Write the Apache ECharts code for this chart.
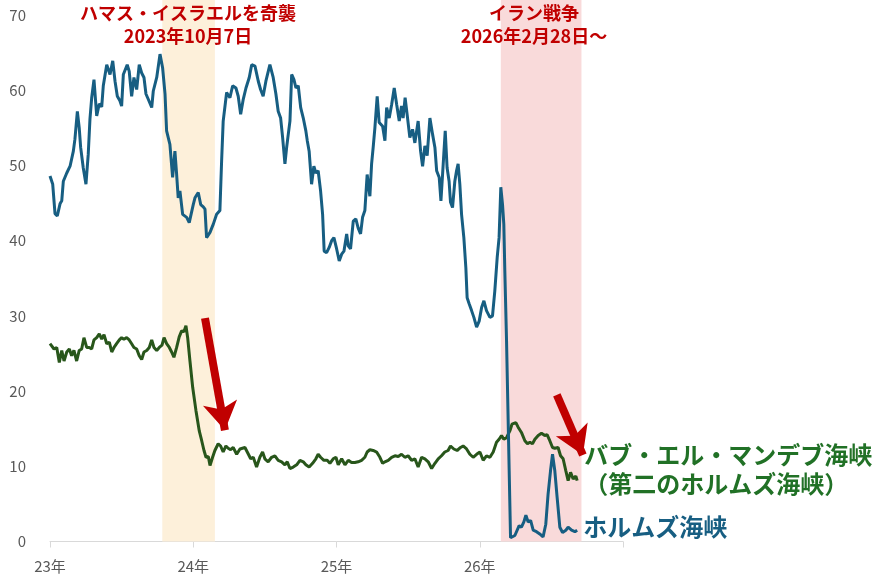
<!DOCTYPE html>
<html>
<head>
<meta charset="utf-8">
<script src="https://cdn.jsdelivr.net/npm/echarts@6/dist/echarts.min.js"></script>
<style>
  html, body { margin: 0; padding: 0; background: #fff; }
  #chart { width: 875px; height: 579px; }
</style>
</head>
<body>
<div id="chart"></div>
<script>
// ホルムズ海峡 (decimal year, value)
const hormuzYear = [
  2023.000, 2023.019, 2023.035, 2023.051, 2023.070, 2023.082, 2023.093, 2023.117, 2023.140, 2023.151,
  2023.163, 2023.174, 2023.191, 2023.204, 2023.214, 2023.232, 2023.251, 2023.267, 2023.279, 2023.291,
  2023.307, 2023.326, 2023.344, 2023.361, 2023.372, 2023.396, 2023.419, 2023.438, 2023.454, 2023.470,
  2023.488, 2023.500, 2023.512, 2023.539, 2023.553, 2023.570, 2023.586, 2023.605, 2023.623, 2023.640,
  2023.656, 2023.670, 2023.686, 2023.710, 2023.721, 2023.745, 2023.768, 2023.786, 2023.803, 2023.814,
  2023.837, 2023.856, 2023.872, 2023.884, 2023.895, 2023.907, 2023.926, 2023.954, 2023.972, 2024.000,
  2024.012, 2024.035, 2024.052, 2024.070, 2024.082, 2024.093, 2024.117, 2024.140, 2024.163, 2024.186,
  2024.198, 2024.209, 2024.233, 2024.256, 2024.275, 2024.298, 2024.314, 2024.331, 2024.349, 2024.368,
  2024.391, 2024.408, 2024.431, 2024.454, 2024.470, 2024.488, 2024.507, 2024.535, 2024.558, 2024.577,
  2024.593, 2024.610, 2024.624, 2024.640, 2024.652, 2024.663, 2024.675, 2024.687, 2024.703, 2024.717,
  2024.733, 2024.750, 2024.768, 2024.786, 2024.796, 2024.809, 2024.826, 2024.842, 2024.856, 2024.872,
  2024.889, 2024.903, 2024.914, 2024.931, 2024.949, 2024.966, 2024.982, 2025.001, 2025.019, 2025.036,
  2025.052, 2025.071, 2025.082, 2025.098, 2025.117, 2025.135, 2025.151, 2025.168, 2025.182, 2025.198,
  2025.214, 2025.233, 2025.245, 2025.256, 2025.268, 2025.284, 2025.298, 2025.322, 2025.338, 2025.350,
  2025.368, 2025.385, 2025.403, 2025.420, 2025.438, 2025.454, 2025.465, 2025.479, 2025.493, 2025.512,
  2025.531, 2025.547, 2025.570, 2025.587, 2025.601, 2025.617, 2025.633, 2025.652, 2025.671, 2025.687,
  2025.699, 2025.717, 2025.729, 2025.745, 2025.759, 2025.772, 2025.786, 2025.796, 2025.810, 2025.826,
  2025.838, 2025.849, 2025.861, 2025.873, 2025.889, 2025.903, 2025.912, 2025.926, 2025.943, 2025.959,
  2025.978, 2025.996, 2026.013, 2026.029, 2026.047, 2026.071, 2026.089, 2026.105, 2026.122, 2026.135,
  2026.147, 2026.159, 2026.168, 2026.175, 2026.187, 2026.215, 2026.245, 2026.275, 2026.291, 2026.308,
  2026.322, 2026.338, 2026.355, 2026.373, 2026.396, 2026.419, 2026.442, 2026.461, 2026.477, 2026.494,
  2026.508, 2026.524, 2026.540, 2026.559, 2026.578, 2026.601, 2026.617, 2026.641, 2026.664, 2026.680
];
const hormuzValue = [
  48.6, 47.5, 43.6, 43.3, 44.9, 45.3, 47.9, 49.0, 49.9, 49.8,
  51.9, 53.5, 57.2, 55.0, 52.4, 49.7, 47.5, 51.5, 56.2, 59.0,
  61.4, 56.6, 58.2, 57.8, 60.6, 63.4, 62.1, 63.9, 61.2, 59.2,
  58.6, 57.9, 62.1, 63.4, 62.5, 59.2, 61.7, 60.1, 63.4, 62.3,
  61.7, 59.5, 58.8, 57.7, 59.9, 61.7, 64.8, 63.0, 59.5, 54.6,
  52.8, 48.4, 51.9, 48.8, 45.7, 46.6, 43.5, 43.1, 42.4, 44.8,
  45.7, 46.4, 44.8, 44.5, 44.2, 40.4, 41.1, 42.2, 43.5, 44.0,
  50.6, 55.9, 59.7, 59.0, 60.6, 60.3, 59.2, 56.8, 58.8, 60.3,
  61.7, 63.4, 63.2, 61.2, 60.1, 59.2, 61.2, 63.4, 61.7, 59.5,
  57.2, 56.3, 53.7, 50.2, 52.4, 54.1, 55.9, 62.1, 61.4, 60.3,
  60.6, 57.7, 56.3, 54.6, 53.3, 51.9, 47.5, 49.9, 49.0, 49.3,
  46.6, 43.5, 38.6, 38.4, 39.1, 40.0, 40.4, 38.9, 37.3, 38.2,
  38.6, 40.9, 39.3, 38.9, 42.6, 42.9, 41.7, 40.9, 43.1, 44.0,
  48.8, 45.9, 50.2, 52.4, 55.0, 59.2, 55.7, 55.2, 53.3, 57.7,
  56.3, 58.1, 60.3, 58.1, 55.9, 57.9, 56.3, 59.0, 56.8, 53.7,
  54.8, 53.0, 55.9, 51.9, 49.9, 52.6, 51.3, 56.3, 54.1, 52.4,
  49.3, 48.4, 45.3, 50.2, 54.6, 49.7, 47.9, 45.1, 44.4, 47.9,
  49.3, 50.2, 47.5, 43.5, 40.4, 36.4, 32.4, 31.6, 30.7, 29.8,
  28.5, 29.3, 31.1, 32.0, 30.7, 29.8, 30.0, 33.3, 37.8, 40.4,
  47.1, 44.8, 42.2, 36.0, 26.7, 0.5, 0.8, 2.1, 1.9, 2.6,
  3.5, 2.6, 2.8, 1.5, 1.3, 1.0, 0.6, 2.3, 6.3, 9.4,
  11.6, 9.4, 5.9, 1.9, 1.2, 1.5, 1.9, 1.5, 1.3, 1.5
];

// バブ・エル・マンデブ海峡 (decimal year, value)
const babYear = [
  2023.000, 2023.012, 2023.028, 2023.047, 2023.065, 2023.082, 2023.098, 2023.117, 2023.135, 2023.151,
  2023.167, 2023.186, 2023.204, 2023.221, 2023.237, 2023.256, 2023.274, 2023.291, 2023.307, 2023.326,
  2023.344, 2023.361, 2023.377, 2023.396, 2023.414, 2023.431, 2023.447, 2023.465, 2023.484, 2023.500,
  2023.516, 2023.535, 2023.553, 2023.570, 2023.586, 2023.605, 2023.623, 2023.640, 2023.656, 2023.675,
  2023.693, 2023.710, 2023.726, 2023.745, 2023.763, 2023.782, 2023.796, 2023.814, 2023.833, 2023.849,
  2023.865, 2023.884, 2023.902, 2023.919, 2023.935, 2023.949, 2023.961, 2023.977, 2023.996, 2024.019,
  2024.042, 2024.059, 2024.075, 2024.089, 2024.105, 2024.117, 2024.135, 2024.151, 2024.174, 2024.191,
  2024.209, 2024.228, 2024.244, 2024.261, 2024.279, 2024.303, 2024.326, 2024.361, 2024.377, 2024.401,
  2024.419, 2024.442, 2024.465, 2024.484, 2024.500, 2024.523, 2024.547, 2024.570, 2024.593, 2024.617,
  2024.640, 2024.656, 2024.675, 2024.698, 2024.722, 2024.745, 2024.768, 2024.786, 2024.809, 2024.833,
  2024.856, 2024.872, 2024.889, 2024.912, 2024.935, 2024.954, 2024.977, 2024.996, 2025.012, 2025.036,
  2025.059, 2025.082, 2025.105, 2025.128, 2025.151, 2025.175, 2025.198, 2025.214, 2025.233, 2025.256,
  2025.280, 2025.303, 2025.322, 2025.338, 2025.361, 2025.385, 2025.408, 2025.431, 2025.454, 2025.477,
  2025.500, 2025.524, 2025.547, 2025.570, 2025.594, 2025.617, 2025.640, 2025.664, 2025.687, 2025.710,
  2025.733, 2025.756, 2025.779, 2025.796, 2025.819, 2025.842, 2025.866, 2025.884, 2025.908, 2025.931,
  2025.954, 2025.978, 2026.001, 2026.024, 2026.047, 2026.071, 2026.094, 2026.117, 2026.135, 2026.152,
  2026.168, 2026.187, 2026.210, 2026.225, 2026.252, 2026.268, 2026.291, 2026.315, 2026.333, 2026.350,
  2026.368, 2026.385, 2026.408, 2026.431, 2026.454, 2026.470, 2026.489, 2026.508, 2026.524, 2026.547,
  2026.564, 2026.582, 2026.601, 2026.617, 2026.634, 2026.652, 2026.671, 2026.680
];
const babValue = [
  26.3, 26.5, 25.6, 25.8, 23.8, 25.4, 24.0, 25.2, 25.6, 24.7,
  25.4, 24.0, 25.4, 25.6, 27.1, 25.8, 25.8, 25.6, 26.8, 27.1,
  27.6, 26.9, 27.5, 26.3, 26.5, 25.2, 25.8, 26.3, 26.8, 27.1,
  26.9, 27.1, 26.8, 26.3, 25.8, 25.6, 24.7, 24.2, 25.2, 25.4,
  25.8, 26.8, 25.8, 25.4, 25.8, 26.1, 27.1, 26.3, 25.8, 25.2,
  24.5, 25.8, 27.2, 28.0, 27.9, 28.7, 27.1, 24.0, 20.5, 17.4,
  14.7, 13.4, 12.1, 11.2, 11.3, 10.1, 11.2, 12.1, 13.0, 12.7,
  11.9, 12.7, 12.4, 12.2, 12.5, 11.6, 12.3, 12.5, 11.9, 11.0,
  11.2, 9.9, 11.2, 11.9, 11.0, 10.6, 11.2, 11.4, 10.8, 10.6,
  10.2, 10.6, 9.7, 9.9, 10.2, 10.8, 10.6, 10.2, 9.9, 10.4,
  11.0, 11.6, 11.2, 10.8, 10.8, 10.4, 11.0, 11.2, 10.2, 11.0,
  10.2, 10.8, 10.5, 10.5, 10.6, 10.8, 11.2, 11.9, 12.2, 12.1,
  11.9, 11.2, 10.4, 10.6, 10.8, 11.2, 11.4, 11.3, 11.6, 11.2,
  11.4, 10.8, 11.0, 9.9, 11.2, 11.0, 10.6, 9.7, 10.4, 11.0,
  11.4, 11.9, 12.1, 12.7, 12.3, 12.1, 12.5, 12.7, 12.3, 11.6,
  11.2, 11.6, 11.9, 10.8, 11.4, 11.2, 11.9, 13.2, 13.6, 14.1,
  13.6, 13.8, 14.7, 15.6, 15.8, 15.2, 14.5, 13.4, 13.0, 13.2,
  13.0, 13.6, 14.1, 14.4, 14.1, 14.2, 13.4, 12.5, 12.4, 12.5,
  11.4, 11.0, 9.4, 8.1, 9.2, 8.3, 8.7, 8.1
];

// shaded periods
const bandStart = [2023.784, 2026.147];
const bandEnd = [2024.151, 2026.710];
const bandColor = ['#fdf0da', '#f9dada'];

// red arrows (from -> to, in data units)
const arrowFrom = [[2024.082, 29.7], [2026.538, 19.5]];
const arrowTo = [[2024.221, 14.8], [2026.720, 11.5]];

const FONT = '"Noto Sans CJK JP", "Noto Sans", sans-serif';
const BLUE = '#175e82';
const GREEN = '#28561b';
const RED = '#c00000';

const zip = (xs, ys) => xs.map((x, i) => [x, ys[i]]);

function note(text, x, y) {
  return {
    type: 'text', x: x, y: y, z: 100,
    style: { text: text, fill: RED, font: 'bold 18px ' + FONT, textAlign: 'center', textVerticalAlign: 'middle' }
  };
}

const chart = echarts.init(document.getElementById('chart'));

chart.setOption({
  animation: false,
  textStyle: { fontFamily: FONT },
  grid: { left: 50, right: 252, top: 0, bottom: 37.5 },
  xAxis: {
    type: 'value',
    min: 2023,
    max: 2027,
    interval: 1,
    axisLine: { lineStyle: { color: '#d9d9d9' } },
    axisTick: { show: true, length: 6, lineStyle: { color: '#d9d9d9' } },
    splitLine: { show: false },
    axisLabel: {
      color: '#595959',
      fontSize: 15,
      margin: 17,
      formatter: v => (v >= 2027 ? '' : (v - 2000) + '年')
    }
  },
  yAxis: {
    type: 'value',
    min: 0,
    max: 72,
    interval: 10,
    axisLine: { show: false },
    axisTick: { show: false },
    splitLine: { show: false },
    axisLabel: {
      color: '#595959',
      fontSize: 15,
      margin: 24,
      formatter: v => (v > 70 ? '' : v)
    }
  },
  graphic: [
    note('ハマス・イスラエルを奇襲', 188, 13),
    note('2023年10月7日', 188, 36),
    note('イラン戦争', 534, 13),
    note('2026年2月28日～', 534, 36)
  ],
  series: [
    {
      name: 'バブ・エル・マンデブ海峡',
      type: 'line',
      data: zip(babYear, babValue),
      showSymbol: false,
      lineStyle: { color: GREEN, width: 3 },
      itemStyle: { color: GREEN },
      endLabel: {
        show: true,
        formatter: 'バブ・エル・マンデブ海峡\n（第二のホルムズ海峡）',
        color: '#217126',
        fontSize: 24,
        fontWeight: 'bold',
        lineHeight: 29,
        distance: 7,
        offset: [0, -11]
      },
      markArea: {
        silent: true,
        data: bandStart.map((s, i) => [
          { xAxis: s, yAxis: 0, itemStyle: { color: bandColor[i] } },
          { xAxis: bandEnd[i], yAxis: 72 }
        ])
      },
      z: 2
    },
    {
      name: 'ホルムズ海峡',
      type: 'line',
      data: zip(hormuzYear, hormuzValue),
      showSymbol: false,
      lineStyle: { color: BLUE, width: 3 },
      itemStyle: { color: BLUE },
      endLabel: {
        show: true,
        formatter: 'ホルムズ海峡',
        color: BLUE,
        fontSize: 24,
        fontWeight: 'bold',
        distance: 6,
        offset: [0, -3]
      },
      markLine: {
        silent: true,
        symbol: ['none', 'arrow'],
        symbolSize: [26, 28],
        label: { show: false },
        lineStyle: { color: RED, width: 8, type: 'solid' },
        data: arrowFrom.map((f, i) => [{ coord: f }, { coord: arrowTo[i] }])
      },
      z: 3
    }
  ]
});
</script>
</body>
</html>
